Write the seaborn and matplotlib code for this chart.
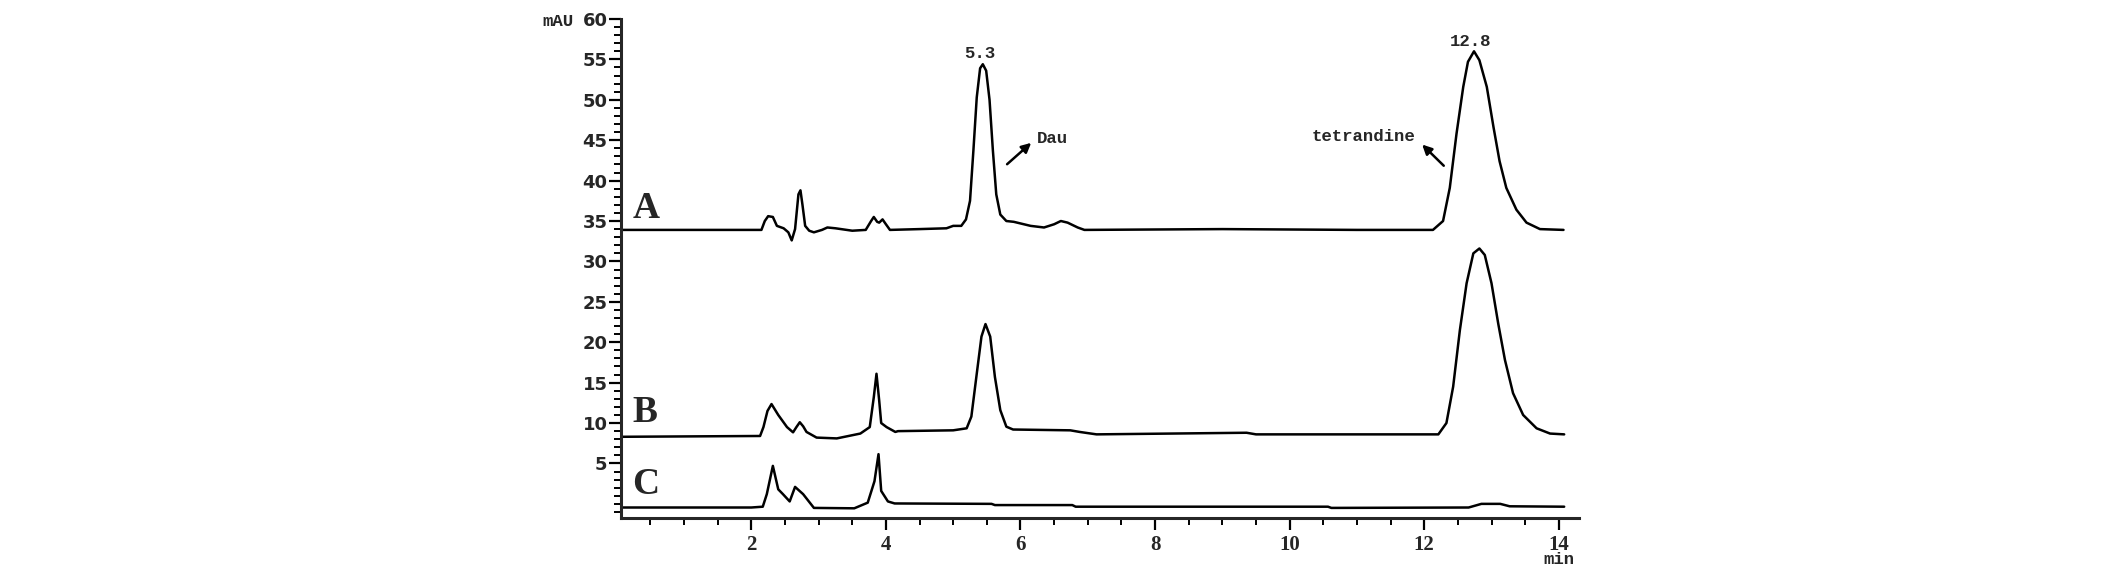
import pandas as pd
import matplotlib
matplotlib.use('Agg')
import matplotlib.pyplot as plt
import seaborn as sns
from matplotlib.ticker import MultipleLocator

# 色谱数据: 时间 min, 信号 mAU
a_time = [0.06, 2.15, 2.20, 2.25, 2.32, 2.38, 2.48, 2.55, 2.60, 2.65, 2.70, 2.73, 2.76, 2.80,
          2.86, 2.93, 3.05, 3.13, 3.25, 3.50, 3.70, 3.78, 3.82, 3.87, 3.90, 3.95, 4.00, 4.06,
          4.50, 4.90, 5.00, 5.12, 5.19, 5.25, 5.30, 5.35, 5.40, 5.44, 5.49, 5.54, 5.59, 5.64,
          5.70, 5.79, 5.90, 6.00, 6.15, 6.35, 6.50, 6.60, 6.70, 6.85, 6.95, 9.00, 11.00, 12.13,
          12.28, 12.38, 12.48, 12.58, 12.65, 12.74, 12.82, 12.93, 13.03, 13.12, 13.22, 13.37,
          13.52, 13.72, 14.07]
a_signal = [33.9, 33.9, 35.0, 35.6, 35.5, 34.4, 34.1, 33.6, 32.6, 34.0, 38.3, 38.8, 37.0, 34.4,
            33.8, 33.6, 33.9, 34.2, 34.1, 33.8, 33.9, 35.0, 35.5, 34.9, 34.8, 35.2, 34.6, 33.9,
            34.0, 34.1, 34.4, 34.4, 35.2, 37.5, 43.7, 50.3, 53.9, 54.4, 53.6, 50.0, 43.7, 38.3,
            35.8, 35.0, 34.9, 34.7, 34.4, 34.2, 34.6, 35.0, 34.8, 34.2, 33.9, 34.0, 33.9, 33.9,
            35.0, 39.1, 45.8, 51.6, 54.7, 56.0, 54.9, 51.6, 46.6, 42.4, 39.1, 36.4,
            34.8, 34.0, 33.9]

b_time = [0.06, 2.13, 2.18, 2.24, 2.30, 2.40, 2.53, 2.62, 2.67, 2.72, 2.77, 2.82, 2.97, 3.27,
          3.62, 3.76, 3.82, 3.86, 3.90, 3.93, 4.01, 4.14, 4.18, 5.00, 5.20, 5.27, 5.35, 5.42,
          5.48, 5.55, 5.62, 5.70, 5.79, 5.89, 6.74, 6.88, 7.13, 9.36, 9.50, 12.21, 12.33, 12.43,
          12.53, 12.63, 12.73, 12.82, 12.90, 13.00, 13.10, 13.20, 13.32, 13.47, 13.67, 13.87, 14.08]
b_signal = [8.3, 8.4, 9.5, 11.5, 12.35, 11.0, 9.5, 8.85, 9.5, 10.1, 9.6, 8.9, 8.2, 8.1,
            8.7, 9.5, 13.2, 16.1, 12.8, 10.0, 9.5, 8.9, 9.0, 9.1, 9.35, 10.8, 16.1, 20.7,
            22.25, 20.7, 15.7, 11.6, 9.55, 9.2, 9.1, 8.9, 8.6, 8.8, 8.6, 8.6, 10.0, 14.5,
            21.5, 27.3, 31.0, 31.6, 30.8, 27.3, 22.3, 17.8, 13.7, 11.0, 9.35, 8.7, 8.6]

c_time = [0.06, 2.00, 2.17, 2.23, 2.32, 2.40, 2.47, 2.57, 2.65, 2.77, 2.93, 3.53, 3.73, 3.83,
          3.89, 3.93, 4.03, 4.13, 5.57, 5.62, 6.77, 6.82, 10.57, 10.62, 12.66, 12.85, 13.13,
          13.27, 14.08]
c_signal = [-0.45, -0.45, -0.35, 1.2, 4.7, 1.8, 1.2, 0.3, 2.1, 1.2, -0.5, -0.55, 0.15, 2.8,
            6.15, 1.6, 0.3, 0.05, 0.0, -0.15, -0.15, -0.35, -0.35, -0.5, -0.45, 0.0, 0.0,
            -0.3, -0.35]

traces = {'A': (a_time, a_signal), 'B': (b_time, b_signal), 'C': (c_time, c_signal)}
trace_label_pos = {'A': (0.23, 34.4), 'B': (0.23, 9.1), 'C': (0.23, 0.2)}

frames = []
for name, (t, s) in traces.items():
    frames.append(pd.DataFrame({'time': t, 'signal': s, 'trace': name}))
df = pd.concat(frames, ignore_index=True)

sns.set_style('ticks')
plt.rcParams['font.family'] = ['DejaVu Sans']

fig = plt.figure(figsize=(21.26, 5.84), dpi=100)
ax = fig.add_axes([0.2920, 0.113, 0.4507, 0.8545])

for name in ['A', 'B', 'C']:
    sub = df[df['trace'] == name]
    sns.lineplot(data=sub, x='time', y='signal', ax=ax, color='black', linewidth=1.8,
                 estimator=None, sort=False, legend=False,
                 solid_joinstyle='round', solid_capstyle='round')

ax.set_xlim(0.06, 14.3)
ax.set_ylim(-1.75, 60)
ax.set_xlabel('')
ax.set_ylabel('')

ax.xaxis.set_major_locator(MultipleLocator(2))
ax.xaxis.set_minor_locator(MultipleLocator(0.5))
ax.yaxis.set_major_locator(MultipleLocator(5))
ax.yaxis.set_minor_locator(MultipleLocator(1))
ax.set_xticks([2, 4, 6, 8, 10, 12, 14])
ax.set_yticks(list(range(5, 61, 5)))

sns.despine(ax=ax)
for side in ['left', 'bottom']:
    ax.spines[side].set_linewidth(2.2)

ax.tick_params(axis='both', which='major', length=8.5, width=1.6, color='black')
ax.tick_params(axis='both', which='minor', length=5, width=1.4, color='black')
ax.tick_params(axis='y', which='major', pad=1)
ax.tick_params(axis='x', which='major', pad=4)

for lab in ax.get_yticklabels():
    lab.set_fontweight('bold')
    lab.set_fontsize(13)
for lab in ax.get_xticklabels():
    lab.set_family('Liberation Serif')
    lab.set_fontweight('bold')
    lab.set_fontsize(15)

# 曲线标签 A/B/C
for name, (x, y) in trace_label_pos.items():
    ax.text(x, y, name, fontsize=27, fontweight='bold', family='Liberation Serif',
            ha='left', va='bottom')

mono = dict(family='Liberation Mono', fontweight='bold', fontsize=12.5)
ax.text(5.39, 55.7, '5.3', ha='center', va='center', **mono)
ax.text(12.69, 57.2, '12.8', ha='center', va='center', **mono)
ax.text(6.25, 45.2, 'Dau', ha='left', va='center', **mono)
ax.text(11.87, 45.4, 'tetrandine', ha='right', va='center', **mono)

arrow = dict(arrowstyle='-|>', color='black', lw=1.8, mutation_scale=14)
ax.annotate('', xy=(6.19, 44.9), xytext=(5.77, 41.8), arrowprops=arrow)
ax.annotate('', xy=(11.94, 44.7), xytext=(12.32, 41.6), arrowprops=arrow)

fig.text(0.2626, 0.963, 'mAU', ha='center', va='center', **mono)
fig.text(1559 / 2126, 1 - 559 / 584, 'min', ha='center', va='center', **mono)

fig.savefig('out.png', dpi=100, facecolor='white')
